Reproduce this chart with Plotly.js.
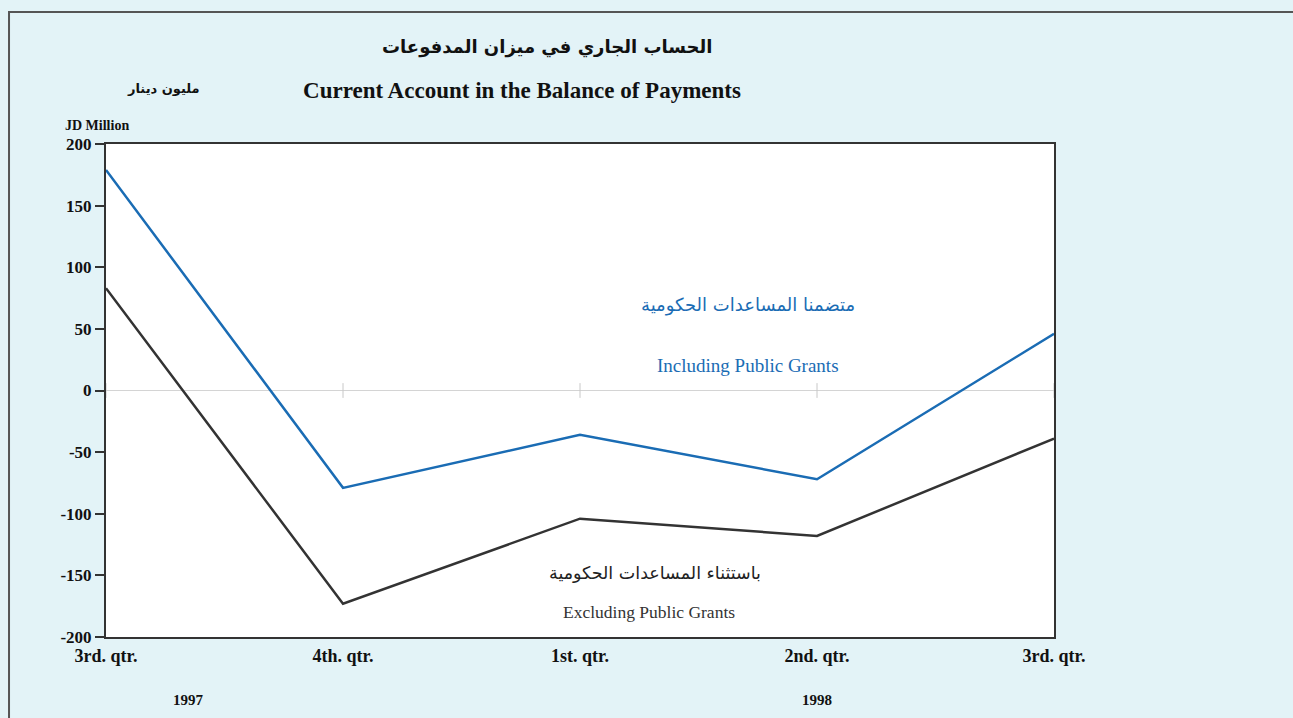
<!DOCTYPE html>
<html>
<head>
<meta charset="utf-8">
<script src="https://cdn.plot.ly/plotly-3.0.1.min.js"></script>
<style>
html,body{margin:0;padding:0;background:#e3f3f7;}
#chart{width:1293px;height:718px;}
</style>
</head>
<body>
<div id="chart"></div>
<script>
// ---- data ----
const categories = ["3rd. qtr.", "4th. qtr.", "1st. qtr.", "2nd. qtr.", "3rd. qtr."];
const yearLabels = ["1997", "1998"];
const yearPositions = [0.35, 3];
const includingGrants = [179, -79, -36, -72, 46];
const excludingGrants = [83, -173, -104, -118, -39];
const yTicks = [-200, -150, -100, -50, 0, 50, 100, 150, 200];

const xIdx = categories.map((_, i) => i);
const serif = "Liberation Serif, Times New Roman, serif";
const arabic = "DejaVu Sans, sans-serif";
const blue = "#1a6cb4";
const dark = "#333333";

const traces = [
  {x: xIdx, y: includingGrants, type: "scatter", mode: "lines",
   line: {color: blue, width: 2.5}, name: "Including Public Grants", hoverinfo: "y"},
  {x: xIdx, y: excludingGrants, type: "scatter", mode: "lines",
   line: {color: dark, width: 2.5}, name: "Excluding Public Grants", hoverinfo: "y"}
];

const shapes = [
  // outer frame (right and bottom edges run off the page)
  {type: "rect", xref: "paper", yref: "paper", x0: -0.1023, x1: 1.3, y0: -0.3, y1: 1.268,
   line: {color: "#555", width: 2}, fillcolor: "rgba(0,0,0,0)", layer: "below"}
].concat(xIdx.map(i => ({
  type: "line", xref: "x", yref: "y", x0: i, x1: i, y0: -6, y1: 6,
  line: {color: "#c8c8c8", width: 1}
})));

const annotations = [
  {text: "<b>الحساب الجاري في ميزان المدفوعات</b>", xref: "paper", yref: "paper",
   x: (547-106)/948, y: (637-47)/493, xanchor: "center", yanchor: "middle", showarrow: false,
   font: {family: arabic, size: 18, color: "#111"}},
  {text: "<b>مليون دينار</b>", xref: "paper", yref: "paper",
   x: (163-106)/948, y: (637-89)/493, xanchor: "center", yanchor: "middle", showarrow: false,
   font: {family: arabic, size: 13, color: "#111"}},
  {text: "<b>JD Million</b>", xref: "paper", yref: "paper",
   x: (97-106)/948, y: (637-125)/493, xanchor: "center", yanchor: "middle", showarrow: false,
   font: {family: serif, size: 14, color: "#111"}},
  {text: "متضمنا المساعدات الحكومية", xref: "paper", yref: "paper",
   x: (748-106)/948, y: (637-305)/493, xanchor: "center", yanchor: "middle", showarrow: false,
   font: {family: arabic, size: 18, color: blue}},
  {text: "Including Public Grants", xref: "paper", yref: "paper",
   x: (748-106)/948, y: (637-365)/493, xanchor: "center", yanchor: "middle", showarrow: false,
   font: {family: serif, size: 19, color: blue}},
  {text: "باستثناء المساعدات الحكومية", xref: "paper", yref: "paper",
   x: (655-106)/948, y: (637-573)/493, xanchor: "center", yanchor: "middle", showarrow: false,
   font: {family: arabic, size: 17.5, color: "#222"}},
  {text: "Excluding Public Grants", xref: "paper", yref: "paper",
   x: (649-106)/948, y: (637-612)/493, xanchor: "center", yanchor: "middle", showarrow: false,
   font: {family: serif, size: 17.5, color: "#333"}}
].concat(yearLabels.map((t, k) => ({
  text: "<b>" + t + "</b>", xref: "x", yref: "paper", x: yearPositions[k],
  y: (637-700)/493, xanchor: "center", yanchor: "middle", showarrow: false,
  font: {family: serif, size: 15, color: "#111"}
})));

const layout = {
  width: 1293, height: 718,
  margin: {l: 106, r: 239, t: 144, b: 81},
  paper_bgcolor: "#e3f3f7",
  plot_bgcolor: "#ffffff",
  showlegend: false,
  title: {text: "<b>Current Account in the Balance of Payments</b>",
    x: 522/1293, xanchor: "center", xref: "container",
    y: 1 - 90/718, yanchor: "middle", yref: "container",
    font: {family: serif, size: 23, color: "#111"}},
  xaxis: {
    range: [0, 4], tickvals: xIdx, ticktext: categories.map(c => "<b>" + c + "</b>"),
    showgrid: false, zeroline: false, showline: true, mirror: true,
    linecolor: dark, linewidth: 2, ticks: "", ticklabelstandoff: 1,
    tickfont: {family: serif, size: 18, color: "#111"}
  },
  yaxis: {
    range: [-200, 200], tickvals: yTicks, ticktext: yTicks.map(v => "<b>" + v + "</b>"),
    showgrid: false, zeroline: true, zerolinecolor: "#d4d4d4", zerolinewidth: 1,
    showline: true, mirror: true, linecolor: dark, linewidth: 2,
    ticks: "outside", ticklen: 9, tickwidth: 2, tickcolor: dark,
    tickfont: {family: serif, size: 17, color: "#111"}
  },
  shapes: shapes,
  annotations: annotations
};

Plotly.newPlot("chart", traces, layout, {displayModeBar: false, staticPlot: true});
</script>
</body>
</html>
